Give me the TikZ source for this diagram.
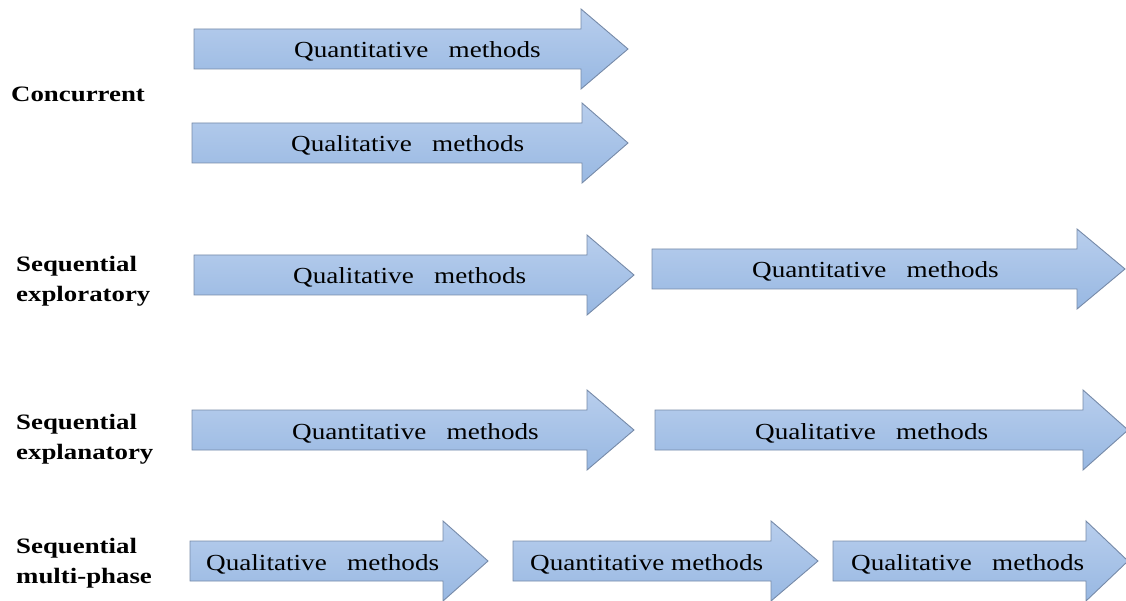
\documentclass[tikz,border=0pt]{standalone}
\usepackage{graphicx}
\usepackage{fontspec}
\setmainfont{Liberation Serif}
\usepackage{tikz}
\definecolor{arrowtop}{RGB}{184,206,237}
\definecolor{arrowbot}{RGB}{152,184,226}
\definecolor{arrowedge}{RGB}{118,138,168}
\newcommand{\widetext}[1]{\scalebox{1.18}[1]{#1}}
\newcommand{\widelabel}[1]{\scalebox{1.22}[1]{\begin{tabular}{@{}l@{}}#1\end{tabular}}}

\begin{document}
\begin{tikzpicture}[x=1pt,y=-1pt,
		phase/.style={draw=arrowedge,line width=0.9pt,top color=arrowtop,bottom color=arrowbot},
		method/.style={anchor=base west,inner sep=0pt,font=\fontsize{23}{28}\selectfont},
		design/.style={anchor=west,inner sep=0pt,font=\bfseries\fontsize{22}{30}\selectfont}]
		
		\useasboundingbox (0,0) rectangle (1126,601);
		
		% arrows: left / head base / tip / middle
		\foreach \l/\b/\t/\m in {194/581/628/49, 192/582/628/143,
			194/587/634/275, 652/1077/1125/269,
			192/587/634/430, 655/1083/1128/430,
			190/443/488/561, 513/771/818/561, 833/1086/1128/561}
		\draw[phase] (\l,\m-20) -- (\b,\m-20) -- (\b,\m-40) -- (\t,\m)
		-- (\b,\m+40) -- (\b,\m+20) -- (\l,\m+20) -- cycle;
		
		% designs
		\node[design] (conc) at (11,95.5) {\widelabel{Concurrent}};
		\node[design] (explo) at (16,281) {\widelabel{Sequential\\exploratory}};
		\node[design] (expla) at (16,438) {\widelabel{Sequential\\explanatory}};
		\node[design] (multi) at (16,562) {\widelabel{Sequential\\multi-phase}};
		
		% methods
		\node[method] (conc1) at (294,58) {\widetext{Quantitative\ \ \ methods}};
		\node[method] (conc2) at (291,152) {\widetext{Qualitative\ \ \ methods}};
		\node[method] (explo1) at (293,284) {\widetext{Qualitative\ \ \ methods}};
		\node[method] (explo2) at (752,278) {\widetext{Quantitative\ \ \ methods}};
		\node[method] (expla1) at (292,439) {\widetext{Quantitative\ \ \ methods}};
		\node[method] (expla2) at (755,439) {\widetext{Qualitative\ \ \ methods}};
		\node[method] (multi1) at (206,570) {\widetext{Qualitative\ \ \ methods}};
		\node[method] (multi2) at (530,570) {\widetext{Quantitative methods}};
		\node[method] (multi3) at (851,570) {\widetext{Qualitative\ \ \ methods}};
		
\end{tikzpicture}
\end{document}
